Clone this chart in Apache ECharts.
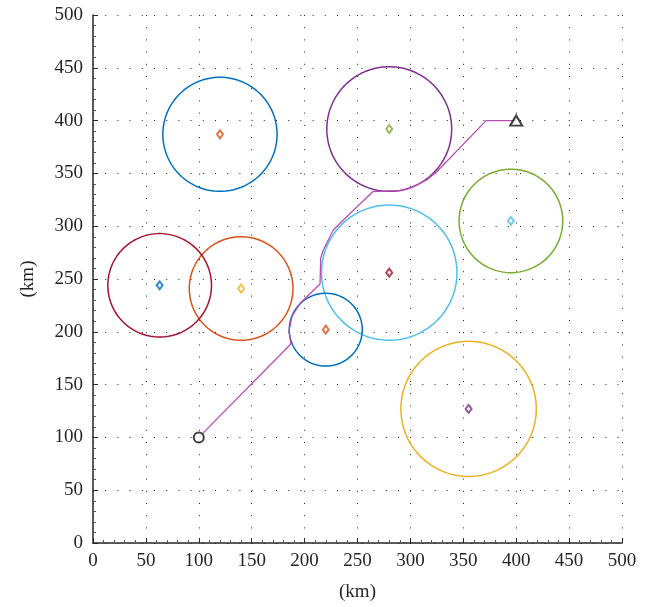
<!DOCTYPE html>
<html><head><meta charset="utf-8">
<script src="https://cdn.jsdelivr.net/npm/echarts@6/dist/echarts.min.js"></script>
<style>html,body{margin:0;padding:0;background:#fff}#c{width:649px;height:607px}</style>
</head><body><div id="c"></div>
<script>
// colour cycle
const palette = ['#0072BD','#D95319','#EDB120','#7E2F8E','#77AC30','#4DBEEE','#A2142F'];
// threat zones (km)
const zoneX = [120, 140, 355, 280, 395, 280, 63, 220];
const zoneY = [387, 241, 127, 392, 305, 256, 244, 202];
const zoneR = [54, 49, 64, 59, 49, 64, 49, 34.5];
// planned path (km)
const pathX = [100, 187, 185.3, 188.1, 195.7, 214.6, 215.2, 217.7, 227.1, 239.8, 264.4, 290.2, 299.6, 315.4, 324.9, 371.5, 400];
const pathY = [100, 188.4, 200.8, 214.9, 227, 245.3, 269.6, 277.5, 296.4, 309, 332.7, 333.6, 335.9, 343.8, 351.6, 400, 400];
const startPt = [100, 100];
const goalPt = [400, 400];
// axes
const axisMin = 0, axisMax = 500, axisStep = 50;

const font = 'Liberation Serif';
const series = [];
for (let i = 0; i < zoneX.length; i++) {
  const pts = [];
  const n = 180;
  for (let k = 0; k <= n; k++) {
    const a = 2 * Math.PI * k / n;
    pts.push([zoneX[i] + zoneR[i] * Math.cos(a), zoneY[i] + zoneR[i] * Math.sin(a)]);
  }
  series.push({type: 'line', data: pts, showSymbol: false, silent: true,
    lineStyle: {color: palette[i % 7], width: 1.5}, z: 2});
}
for (let i = 0; i < zoneX.length; i++) {
  series.push({type: 'scatter', data: [[zoneX[i], zoneY[i]]], symbol: 'emptyDiamond',
    symbolSize: [6, 8], silent: true,
    itemStyle: {color: palette[(i + 1) % 7], borderWidth: 1.5}, z: 3});
}
series.push({type: 'line', data: pathX.map((x, i) => [x, pathY[i]]), showSymbol: false, silent: true,
  lineStyle: {color: '#B94DB1', width: 1.3}, z: 4});
series.push({type: 'scatter', data: [startPt], symbol: 'emptyCircle', symbolSize: 10, silent: true,
  itemStyle: {color: '#111', borderWidth: 1.3}, z: 5});
series.push({type: 'scatter', data: [goalPt], symbol: 'emptyTriangle', symbolSize: [12, 10], silent: true,
  itemStyle: {color: '#111', borderWidth: 1.3}, z: 5});

function axis(isX) {
  return {
    type: 'value', min: axisMin, max: axisMax, interval: axisStep,
    name: '(km)', nameLocation: 'middle', nameGap: isX ? 40 : 55,
    nameTextStyle: {fontFamily: font, fontSize: 19, color: '#262626'},
    axisLine: {show: true, onZero: false, lineStyle: {color: '#262626', width: 1.5}},
    axisTick: {show: true, inside: true, length: 5, lineStyle: {color: '#262626', width: 1}},
    minorTick: {show: true, splitNumber: 5, length: 3, lineStyle: {color: '#555', width: 1}},
    axisLabel: {fontFamily: font, fontSize: 19, color: '#262626', margin: isX ? 9 : 10},
    splitLine: {show: true, lineStyle: {color: '#222', width: 1, type: [1, 11.2]}},
    minorSplitLine: {show: false}
  };
}

const chart = echarts.init(document.getElementById('c'), null, {renderer: 'canvas'});
chart.setOption({
  animation: false,
  backgroundColor: '#fff',
  grid: {left: 93, right: 27, top: 15, bottom: 64, containLabel: false},
  xAxis: axis(true),
  yAxis: axis(false),
  series: series
});
</script>
</body></html>
